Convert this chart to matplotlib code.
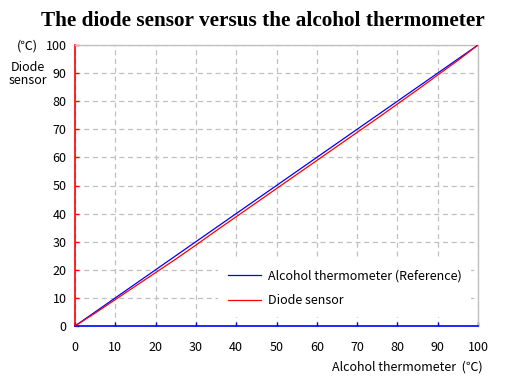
import matplotlib
matplotlib.use("Agg")
import matplotlib.pyplot as plt

# Data
reference_x = [0, 100]
reference_y = [0, 100]
diode_x = [0, 5, 10, 15, 20, 25, 30, 35, 40, 45, 50, 55, 60, 65, 70, 75, 80, 85, 90, 95, 100]
diode_y = [0, 4.6, 9.4, 14.2, 19.0, 23.8, 28.8, 33.9, 38.9, 43.9, 48.9, 53.9, 58.9, 63.9, 68.9, 73.9, 79.0, 84.1, 89.3, 94.5, 100]
x_ticks = list(range(0, 101, 10))
y_ticks = list(range(0, 101, 10))

plt.rcParams['font.family'] = ['Noto Sans CJK JP', 'DejaVu Sans']

fig = plt.figure(figsize=(5.05, 3.81), dpi=100)
ax = fig.add_axes([75/505, 1-326/381, 403/505, 281/381])

ax.plot(reference_x, reference_y, color='#0000ff', lw=0.9, label='Alcohol thermometer (Reference)', zorder=3)
ax.plot(diode_x, diode_y, color='#ff0000', lw=0.9, label='Diode sensor', zorder=3)

ax.set_xlim(0, 100)
ax.set_ylim(0, 100)
ax.set_xticks(x_ticks)
ax.set_yticks(y_ticks)
ax.grid(True, color='#c0c0c0', linestyle=(0, (4, 3)), lw=0.9, zorder=0)
ax.set_axisbelow(True)

for s in ['top', 'right']:
    ax.spines[s].set_color('#c0c0c0')
    ax.spines[s].set_linewidth(1)
ax.spines['left'].set_color('#ff0000')
ax.spines['left'].set_linewidth(1.2)
ax.spines['bottom'].set_color('#0000ff')
ax.spines['bottom'].set_linewidth(1.2)

ax.tick_params(axis='y', direction='in', length=3, width=1, color='#ff0000', labelsize=9, pad=6)
ax.tick_params(axis='x', direction='in', length=3, width=1, color='#0000ff', labelsize=9, pad=11)

leg = ax.legend(loc='upper left', bbox_to_anchor=(0.340, 0.259), frameon=True, fontsize=9,
                handlelength=2.6, handletextpad=0.55, labelspacing=0.95, borderpad=0.8)
leg.get_frame().set_edgecolor('none')
leg.get_frame().set_facecolor('white')
leg.get_frame().set_alpha(1)

fig.text(0.52, 0.945, 'The diode sensor versus the alcohol thermometer', ha='center', va='center',
         fontsize=15.3, fontweight='bold', family=['Liberation Serif', 'DejaVu Serif'])
fig.text(38/505, 1-46/381, '(℃)', ha='right', va='center', fontsize=9)
fig.text(28/505, 1-74/381, 'Diode\nsensor', ha='center', va='center', fontsize=9, linespacing=1.05)
fig.text(483/505, 1-367/381, 'Alcohol thermometer  (℃)', ha='right', va='center', fontsize=9)

fig.savefig('out.png', dpi=100)
